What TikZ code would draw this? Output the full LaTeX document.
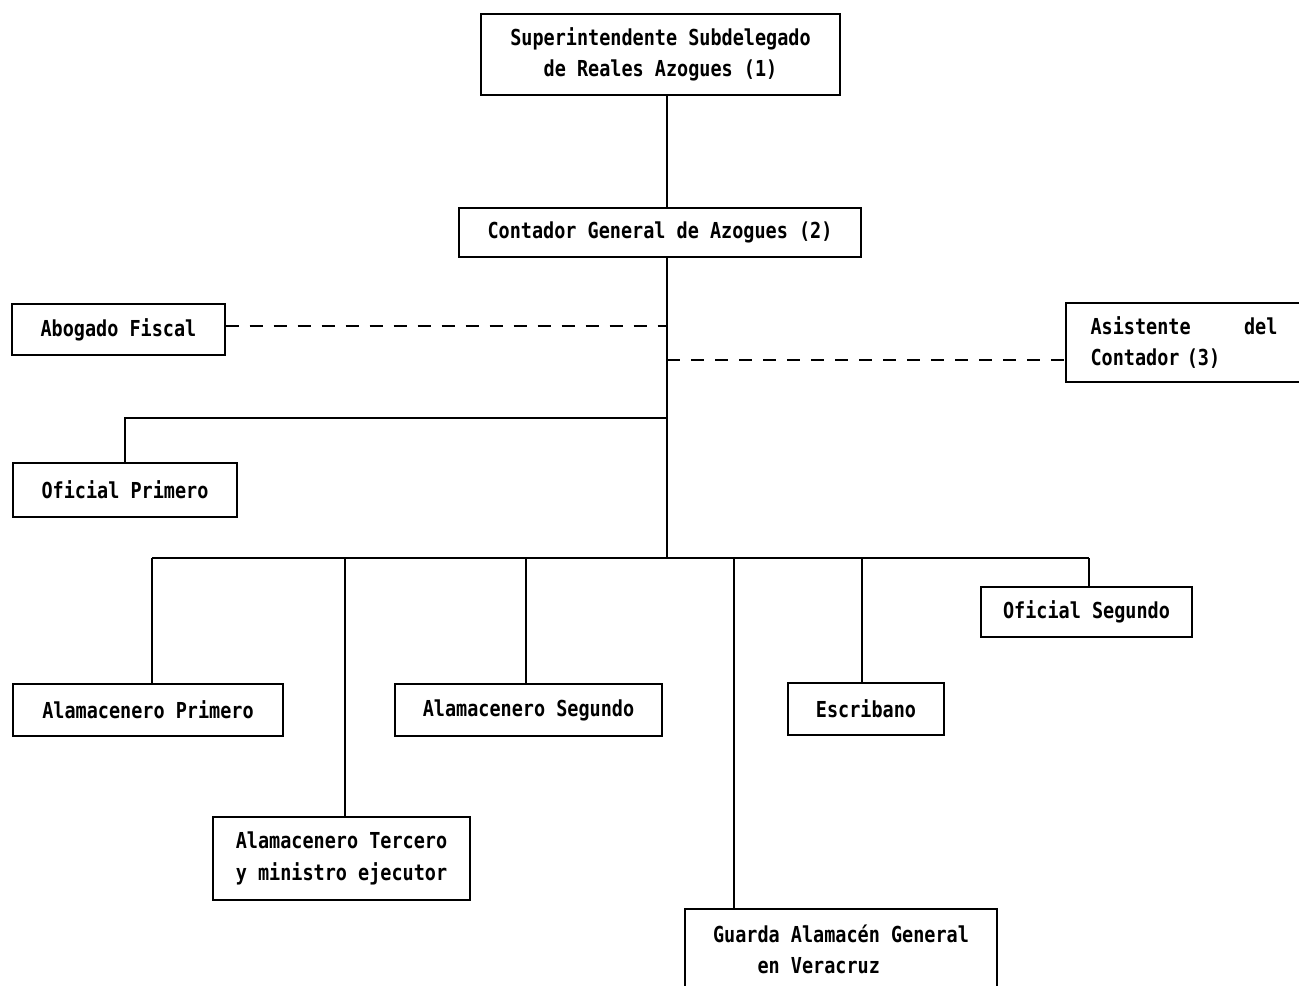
\documentclass[tikz,border=0pt]{standalone}
\usepackage{fontspec}
\newfontfamily\typ[FakeStretch=0.84]{DejaVu Sans Mono}
\begin{document}
\begin{tikzpicture}[x=0.75pt,y=-0.75pt,
  box/.style={draw, line width=1.1pt, inner sep=0pt, align=center,
    font=\typ\bfseries\fontsize{16.5}{23.5}\selectfont},
  link/.style={line width=1.1pt},
  dlink/.style={line width=1.1pt, dash pattern=on 10pt off 8pt}]
\useasboundingbox (0,0) rectangle (1299,985);
\clip (0,0) rectangle (1299,985);

% boxes
\node[box, minimum width={359*0.75pt}, minimum height={81*0.75pt}] (sup) at (660.5,54.5)
  {Superintendente Subdelegado\\de Reales Azogues (1)};
\node[box, minimum width={402*0.75pt}, minimum height={49*0.75pt}] (con) at (660,232.5)
  {Contador General de Azogues (2)};
\node[box, minimum width={213*0.75pt}, minimum height={51*0.75pt}] (abo) at (118.5,329.5)
  {Abogado Fiscal};
\node[box, minimum width={236*0.75pt}, minimum height={79*0.75pt}, align=left,
  text width={187*0.75pt}] (asi) at (1184,342.5)
  {\makebox[\linewidth][l]{Asistente\hfill del}\\Contador (3)};
\node[box, minimum width={224*0.75pt}, minimum height={54*0.75pt}] (opr) at (125,490)
  {Oficial Primero};
\node[box, minimum width={270*0.75pt}, minimum height={52*0.75pt}] (ap) at (148,710)
  {Alamacenero Primero};
\node[box, minimum width={267*0.75pt}, minimum height={52*0.75pt}] (as) at (528.5,710)
  {Alamacenero Segundo};
\node[box, minimum width={156*0.75pt}, minimum height={52*0.75pt}] (esc) at (866,709)
  {Escribano};
\node[box, minimum width={211*0.75pt}, minimum height={50*0.75pt}] (os) at (1086.5,612)
  {Oficial Segundo};
\node[box, minimum width={257*0.75pt}, minimum height={83*0.75pt}, align=left] (at) at (341.5,858.5)
  {Alamacenero Tercero\\y ministro ejecutor};
\node[box, minimum width={312*0.75pt}, minimum height={81*0.75pt}, align=left] (gu) at (841,949.5)
  {Guarda Alamacén General\\\phantom{XXXX}en Veracruz};

% trunk and branch points
\coordinate (trunk) at (667,0);
\coordinate (bus) at (667,558);
\coordinate (opj) at (667,418);
\coordinate (dabo) at (667,326);
\coordinate (dasi) at (667,360);
\coordinate (b1) at (152,558);
\coordinate (b2) at (345,558);
\coordinate (b3) at (526,558);
\coordinate (b4) at (734,558);
\coordinate (b5) at (862,558);
\coordinate (b6) at (1089,558);

\draw[link] (sup.south -| trunk) -- (con.north -| trunk);
\draw[link] (con.south -| trunk) -- (bus);
\draw[link] (opj) -- (opj -| opr.north) -- (opr.north);
\draw[link] (b1) -- (b6);
\draw[link] (b1) -- (b1 |- ap.north);
\draw[link] (b2) -- (b2 |- at.north);
\draw[link] (b3) -- (b3 |- as.north);
\draw[link] (b4) -- (b4 |- gu.north);
\draw[link] (b5) -- (b5 |- esc.north);
\draw[link] (b6) -- (b6 |- os.north);

% advisory (dashed) links
\draw[dlink] (dabo -| abo.east) -- (dabo);
\draw[dlink] (dasi) -- (dasi -| asi.west);
\end{tikzpicture}
\end{document}
